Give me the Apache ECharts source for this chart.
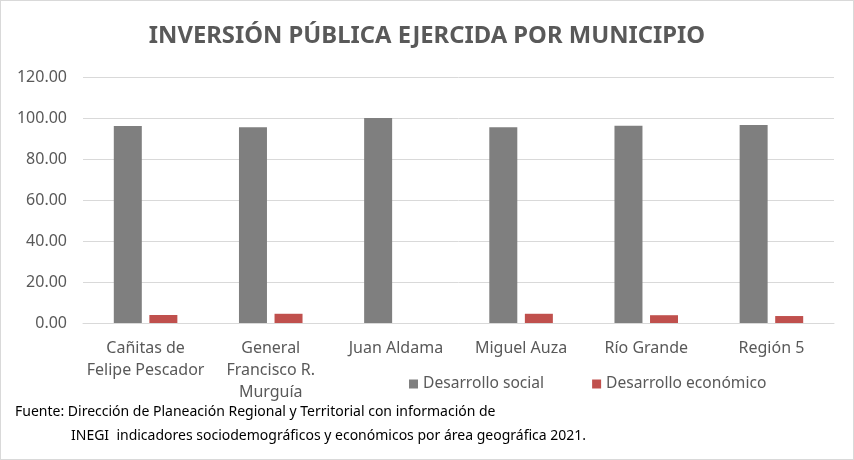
<!DOCTYPE html>
<html>
<head>
<meta charset="utf-8">
<script src="https://cdn.jsdelivr.net/npm/echarts@6/dist/echarts.min.js"></script>
<style>
  html, body { margin: 0; padding: 0; background: #fff; }
  #chart { width: 852px; height: 458px; border: 1px solid #d9d9d9; }
</style>
</head>
<body>
<div id="chart"></div>
<script>
  // municipios y valores (porcentaje)
  var categories = ['Cañitas de\nFelipe Pescador', 'General\nFrancisco R.\nMurguía', 'Juan Aldama', 'Miguel Auza', 'Río Grande', 'Región 5'];
  var social = [96.1, 95.5, 100, 95.5, 96.2, 96.6];
  var economico = [3.9, 4.5, 0, 4.5, 3.8, 3.4];
  var yTicks = [0, 20, 40, 60, 80, 100, 120];

  var font = '"Noto Sans", sans-serif';
  var chart = echarts.init(document.getElementById('chart'));
  chart.setOption({
    color: ['#7f7f7f', '#c0504d'],
    textStyle: { fontFamily: font },
    title: {
      text: 'INVERSIÓN PÚBLICA EJERCIDA POR MUNICIPIO',
      left: 'center',
      top: 18,
      textStyle: { fontFamily: font, fontSize: 23.8, fontWeight: 'bold', color: '#595959' }
    },
    legend: {
      data: ['Desarrollo social', 'Desarrollo económico'],
      left: 403,
      top: 370,
      itemWidth: 9,
      itemHeight: 9,
      itemGap: 48,
      icon: 'rect',
      textStyle: { fontFamily: font, fontSize: 15.6, color: '#595959' }
    },
    grid: { left: 82, right: 19, top: 76, bottom: 136 },
    xAxis: {
      type: 'category',
      data: categories,
      axisTick: { show: false },
      axisLine: { lineStyle: { color: '#d9d9d9', width: 1 } },
      axisLabel: { fontFamily: font, fontSize: 16, color: '#595959', margin: 14, lineHeight: 22, interval: 0 }
    },
    yAxis: {
      type: 'value',
      min: yTicks[0],
      max: yTicks[yTicks.length - 1],
      interval: 20,
      axisLabel: {
        fontFamily: font, fontSize: 16, color: '#595959', margin: 16,
        formatter: function (v) { return v.toFixed(2); }
      },
      splitLine: { lineStyle: { color: '#d9d9d9', width: 1 } }
    },
    series: [
      {
        name: 'Desarrollo social',
        type: 'bar',
        barWidth: 28,
        barGap: '27%',
        data: social
      },
      {
        name: 'Desarrollo económico',
        type: 'bar',
        barWidth: 28,
        data: economico
      }
    ],
    graphic: [
      {
        type: 'text', left: 14, top: 404,
        style: { text: 'Fuente: Dirección de Planeación Regional y Territorial con información de', font: '14px ' + font, fill: '#000' }
      },
      {
        type: 'text', left: 70, top: 428,
        style: { text: 'INEGI  indicadores sociodemográficos y económicos por área geográfica 2021.', font: '14px ' + font, fill: '#000' }
      }
    ]
  });
</script>
</body>
</html>
